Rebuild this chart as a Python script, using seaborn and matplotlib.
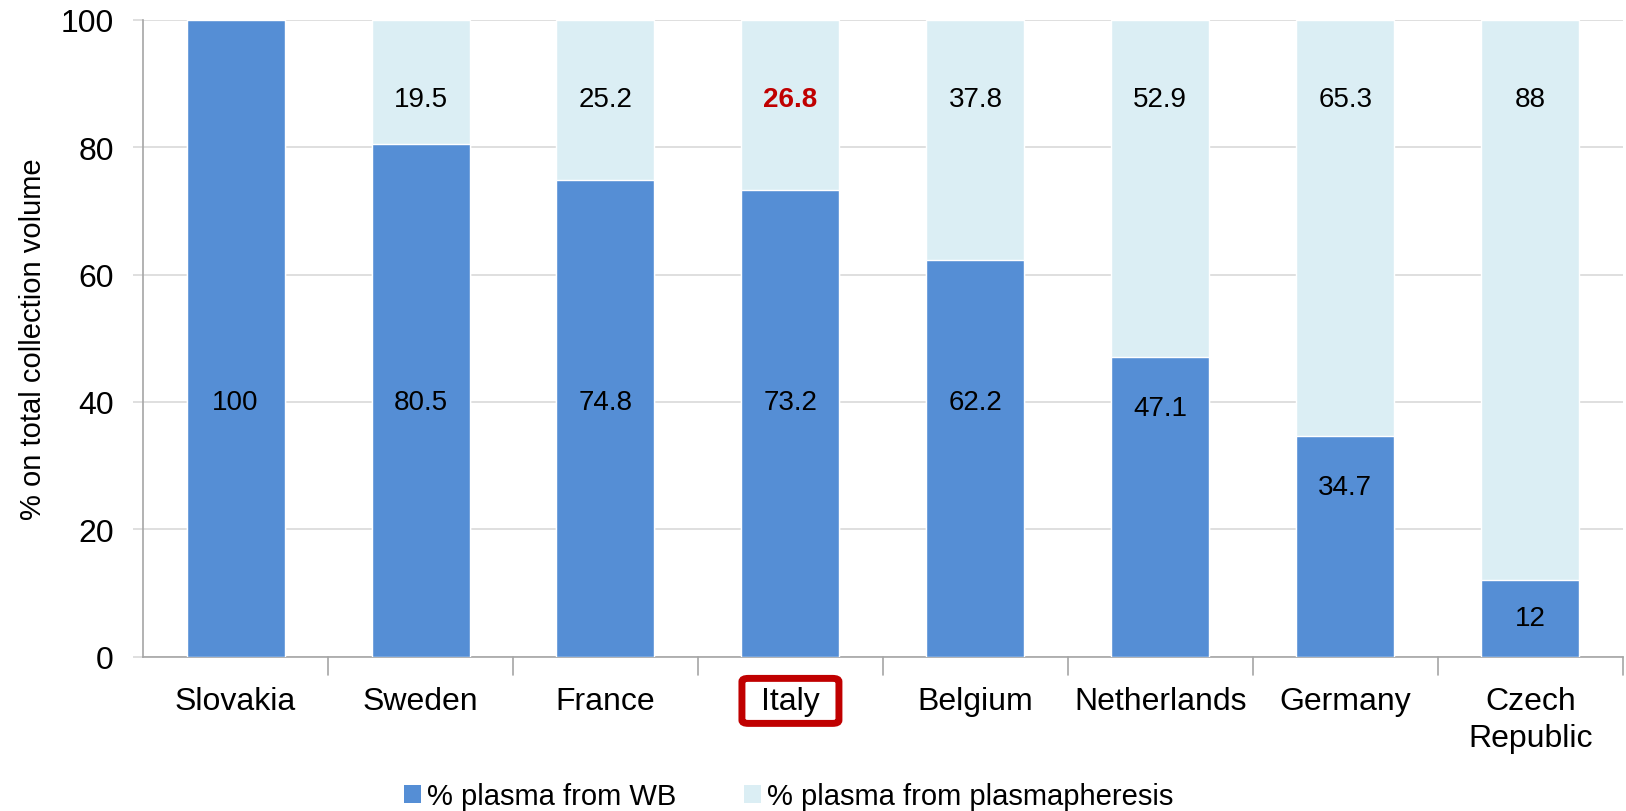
import matplotlib
matplotlib.use("Agg")
import matplotlib.pyplot as plt
import seaborn as sns
import pandas as pd
from matplotlib.patches import Patch, FancyBboxPatch

countries = ["Slovakia", "Sweden", "France", "Italy", "Belgium",
             "Netherlands", "Germany", "Czech\nRepublic"]
plasma_wb = [100, 80.5, 74.8, 73.2, 62.2, 47.1, 34.7, 12]
plasma_apheresis = [0, 19.5, 25.2, 26.8, 37.8, 52.9, 65.3, 88]
y_ticks = [0, 20, 40, 60, 80, 100]
highlight = "Italy"

WB_COLOR = "#558ED5"
APH_COLOR = "#DBEEF4"
HL_COLOR = "#C00000"

df = pd.DataFrame({"country": countries, "wb": plasma_wb, "aph": plasma_apheresis})
df["total"] = df["wb"] + df["aph"]

sns.set_theme(style="white")
plt.rcParams["font.family"] = ["Liberation Sans", "DejaVu Sans"]
plt.rcParams["text.color"] = "black"
plt.rcParams["xtick.labelcolor"] = "black"
plt.rcParams["ytick.labelcolor"] = "black"
plt.rcParams["axes.labelcolor"] = "black"

fig = plt.figure(figsize=(16.26, 8.12), dpi=100)
ax = fig.add_axes([0.088, 0.19, 0.910, 0.7845])

# stacked bars: full height in the apheresis colour, WB share drawn over it
sns.barplot(data=df, x="country", y="total", color=APH_COLOR, width=0.53,
            saturation=1, ax=ax, zorder=2)
sns.barplot(data=df, x="country", y="wb", color=WB_COLOR, width=0.53,
            saturation=1, ax=ax, zorder=3)

ax.set_ylim(0, 100)
ax.set_xlim(-0.5, len(countries) - 0.5)
ax.set_yticks(y_ticks)
ax.set_yticklabels([str(t) for t in y_ticks], fontsize=23)
ax.yaxis.grid(True, color="#D9D9D9", linewidth=1.2, zorder=0)
ax.set_axisbelow(True)

for side in ["top", "right"]:
    ax.spines[side].set_visible(False)
for side in ["left", "bottom"]:
    ax.spines[side].set_color("#A6A6A6")
    ax.spines[side].set_linewidth(1.2)

ax.tick_params(axis="y", left=True, length=7, width=1.2, color="#D9D9D9", pad=14)
ax.set_xticks(range(len(countries)))
ax.set_xticklabels(countries, fontsize=23)
ax.tick_params(axis="x", bottom=False, pad=15)
# category separator ticks under the axis
for b in [i + 0.5 for i in range(len(countries))]:
    ax.plot([b, b], [0, -2.8], color="#A6A6A6", lw=1.2, clip_on=False, zorder=4)

ax.set_xlabel("")
ax.set_ylabel("% on total collection volume", fontsize=21, labelpad=10)

for lbl in ax.get_xticklabels():
    lbl.set_linespacing(1.3)

# value labels
for i, (wb, aph) in enumerate(zip(plasma_wb, plasma_apheresis)):
    y_wb = min(40, max(wb / 2, wb - 8))
    ax.text(i, y_wb, f"{wb:g}", ha="center", va="center", fontsize=20,
            color="black", zorder=5)
    if aph > 0:
        is_hl = countries[i] == highlight
        ax.text(i, wb + aph - 12.5, f"{aph:g}", ha="center", va="center",
                fontsize=20, color=HL_COLOR if is_hl else "black",
                fontweight="bold" if is_hl else "normal", zorder=5)

handles = [Patch(facecolor=WB_COLOR, edgecolor="none", label="% plasma from WB"),
           Patch(facecolor=APH_COLOR, edgecolor="none", label="% plasma from plasmapheresis")]
fig.legend(handles=handles, loc="center", bbox_to_anchor=(0.485, 0.018), ncol=2,
           frameon=False, fontsize=21, handlelength=0.6, handleheight=0.6,
           handletextpad=0.2, columnspacing=2.3, borderpad=0.1)

# rounded frame around the highlighted country name
fig.canvas.draw()
renderer = fig.canvas.get_renderer()
W, H = fig.bbox.width, fig.bbox.height
for lbl in ax.get_xticklabels():
    if lbl.get_text() == highlight:
        bb = lbl.get_window_extent(renderer)
        cx, cy = (bb.x0 + bb.x1) / 2, (bb.y0 + bb.y1) / 2
        bw, bh = 97, 45
        frame = FancyBboxPatch(((cx - bw / 2) / W, (cy - bh / 2) / H), bw / W, bh / H,
                               boxstyle="round,pad=0,rounding_size=0.004",
                               transform=fig.transFigure, facecolor="none",
                               edgecolor=HL_COLOR, linewidth=5, zorder=10)
        fig.add_artist(frame)

fig.savefig("out.png", dpi=100)
